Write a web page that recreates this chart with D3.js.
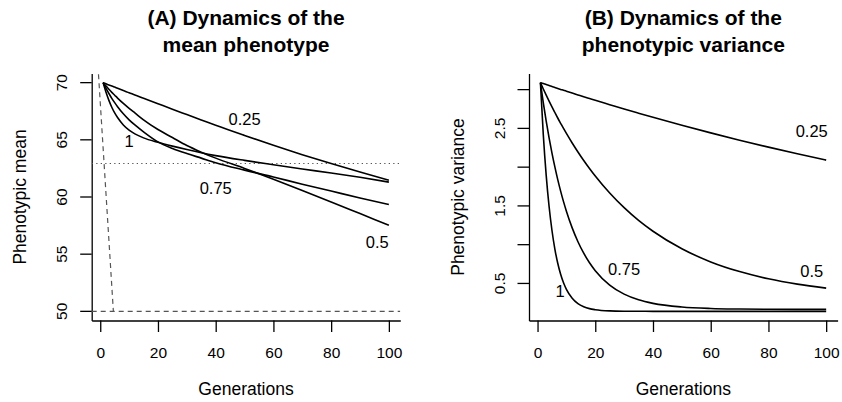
<!DOCTYPE html>
<html><head><meta charset="utf-8">
<script src="https://cdn.jsdelivr.net/npm/d3@7"></script>
<style>
body{margin:0;background:#fff}
svg{display:block}
text{font-family:"Liberation Sans", Arial, Helvetica, sans-serif;fill:#000}
</style></head><body>
<svg id="chart" width="842" height="402"></svg>
<script>
// ---------- data ----------
const genMean = [1,2,3,4,5,6,8,10,12,15,20,25,30,35,40,50,60,70,80,90,100];
const meanH025 = [70,69.90,69.80,69.71,69.61,69.51,69.31,69.12,68.92,68.64,68.16,67.68,67.21,66.74,66.27,65.38,64.52,63.70,62.92,62.18,61.47];
const meanH05  = [70,69.70,69.42,69.15,68.90,68.65,68.18,67.75,67.35,66.75,65.90,65.20,64.50,63.92,63.40,62.50,61.55,60.57,59.57,58.55,57.53];
const meanH075 = [70,69.50,69.05,68.63,68.25,67.90,67.28,66.75,66.30,65.70,64.82,64.25,63.80,63.40,63.00,62.35,61.75,61.12,60.52,59.92,59.34];
const meanH1   = [70,69.15,68.45,67.85,67.35,66.95,66.30,65.85,65.52,65.17,64.78,64.45,64.15,63.87,63.62,63.20,62.82,62.45,62.10,61.72,61.30];

const genVar = [1,2,3,4,5,6,7,8,9,10,12,14,16,18,20,25,30,35,40,50,60,70,80,90,100];
const varH025 = [3.09,3.078,3.065,3.053,3.040,3.028,3.015,3.003,2.992,2.980,2.956,2.932,2.908,2.885,2.862,2.806,2.750,2.696,2.643,2.540,2.442,2.348,2.258,2.173,2.091];
const varH05  = [3.09,3.008,2.929,2.852,2.777,2.705,2.634,2.566,2.499,2.435,2.312,2.196,2.086,1.983,1.885,1.666,1.477,1.313,1.173,0.947,0.778,0.653,0.560,0.491,0.440];
const varH075 = [3.09,2.830,2.594,2.378,2.181,2.003,1.839,1.691,1.555,1.432,1.217,1.038,0.890,0.767,0.665,0.479,0.362,0.289,0.243,0.196,0.177,0.170,0.167,0.166,0.165];
const varH1   = [3.09,2.415,1.894,1.492,1.183,0.944,0.760,0.618,0.508,0.424,0.309,0.240,0.200,0.175,0.161,0.146,0.142,0.141,0.140,0.140,0.140,0.140,0.140,0.140,0.140];

const heritLabels = ["0.25","0.5","0.75","1"];
// label anchor positions (generation, value)
const meanLabelGen = [50,96,40,10];
const meanLabelVal = [66.8,56.1,60.8,64.9];
const varLabelGen = [95,95,30,7.8];
const varLabelVal = [2.47,0.66,0.69,0.40];

// reference lines (mean panel)
const targetMean = 50;          // dashed horizontal
const thresholdMean = 62.93;    // dotted horizontal
const fastGen = [-1, 4.55];     // dashed steep trajectory
const fastVal = [72.3, 50];

const genTicks = [0,20,40,60,80,100];
const meanTicks = [50,55,60,65,70];
const varTicks = [0.5,1,1.5,2,2.5,3];
const varTickLabels = ["0.5","","1.5","","2.5",""];

const titlesA = ["(A) Dynamics of the","mean phenotype"];
const titlesB = ["(B) Dynamics of the","phenotypic variance"];

// ---------- drawing ----------
const svg = d3.select("#chart");
const plotTop = 73.5, plotBottom = 320.5;

function panel(opt){
  const g = svg.append("g");
  const x = d3.scaleLinear().domain([-2.96,103.96]).range([opt.left, opt.left+308.6]);
  const y = d3.scaleLinear().domain(opt.ydom).range([plotBottom, plotTop]);
  const cid = "clip"+opt.id;
  svg.append("clipPath").attr("id",cid).append("rect")
     .attr("x",opt.left).attr("y",plotTop).attr("width",308.6).attr("height",plotBottom-plotTop);

  // axes
  const xa = g.append("g").attr("transform",`translate(0,${plotBottom})`)
    .call(d3.axisBottom(x).tickValues(genTicks).tickSizeOuter(0).tickSizeInner(11.5));
  xa.selectAll("text").attr("y",32).attr("dy",null).attr("dominant-baseline","central")
    .style("font-size","15.5px");
  const ya = g.append("g").attr("transform",`translate(${opt.left},0)`)
    .call(d3.axisLeft(y).tickValues(opt.yticks).tickFormat((d,i)=>opt.ylabels[i]).tickSizeOuter(0).tickSizeInner(11.5));
  ya.selectAll(".tick").attr("transform",null);
  ya.selectAll(".tick line").attr("transform",d=>`translate(0,${y(d)})`);
  ya.selectAll("text").attr("x",null).attr("dy",null).attr("text-anchor","middle")
    .attr("dominant-baseline","central")
    .attr("transform",d=>`translate(-30,${y(d)}) rotate(-90)`)
    .style("font-size","15.5px");
  [xa,ya].forEach(a=>{a.selectAll("path,line").attr("stroke","#000").attr("stroke-width",1.3);
                     a.attr("font-family",null).attr("font-size",null);});

  // axis titles
  g.append("text").attr("x",opt.left+154.3).attr("y",389).attr("text-anchor","middle")
    .attr("dominant-baseline","central").style("font-size","17.5px").text("Generations");
  g.append("text").attr("transform",`translate(${opt.left-71.5},${(plotTop+plotBottom)/2}) rotate(-90)`)
    .attr("text-anchor","middle").attr("dominant-baseline","central")
    .style("font-size","17.5px").text(opt.ytitle);

  // title
  const t = g.append("text").attr("text-anchor","middle").style("font-size","21px").style("font-weight","bold");
  opt.title.forEach((s,i)=>t.append("tspan").attr("x",opt.left+154.3).attr("y",25+i*26.5).text(s));

  const plot = g.append("g").attr("clip-path",`url(#${cid})`);
  if(opt.extra) opt.extra(plot,x,y);

  const line = d3.line().x(d=>x(d[0])).y(d=>y(d[1])).curve(d3.curveMonotoneX);
  opt.series.forEach(s=>{
    plot.append("path").datum(opt.gens.map((gv,i)=>[gv,s[i]]))
      .attr("d",line).attr("fill","none").attr("stroke","#000").attr("stroke-width",1.6);
  });
  heritLabels.forEach((lab,i)=>{
    g.append("text").attr("x",x(opt.labGen[i])).attr("y",y(opt.labVal[i]))
      .attr("text-anchor","middle").attr("dominant-baseline","central")
      .style("font-size","16.5px").text(lab);
  });
}

panel({id:"A", left:91.7, ydom:[49.2,70.8], yticks:meanTicks, ylabels:meanTicks.map(String),
  ytitle:"Phenotypic mean", title:titlesA, gens:genMean,
  series:[meanH025,meanH05,meanH075,meanH1], labGen:meanLabelGen, labVal:meanLabelVal,
  extra:(p,x,y)=>{
    p.append("line").attr("x1",x.range()[0]).attr("x2",x.range()[1]).attr("y1",y(targetMean)).attr("y2",y(targetMean))
      .attr("stroke","#555").attr("stroke-width",1.2).attr("stroke-dasharray","5,4");
    p.append("line").attr("x1",x.range()[0]).attr("x2",x.range()[1]).attr("y1",y(thresholdMean)).attr("y2",y(thresholdMean))
      .attr("stroke","#555").attr("stroke-width",1.2).attr("stroke-dasharray","1.3,3.2");
    p.append("line").attr("x1",x(fastGen[0])).attr("y1",y(fastVal[0])).attr("x2",x(fastGen[1])).attr("y2",y(fastVal[1]))
      .attr("stroke","#555").attr("stroke-width",1.2).attr("stroke-dasharray","5,4");
  }});

panel({id:"B", left:529, ydom:[0.022,3.208], yticks:varTicks, ylabels:varTickLabels,
  ytitle:"Phenotypic variance", title:titlesB, gens:genVar,
  series:[varH025,varH05,varH075,varH1], labGen:varLabelGen, labVal:varLabelVal});
</script>
</body></html>
